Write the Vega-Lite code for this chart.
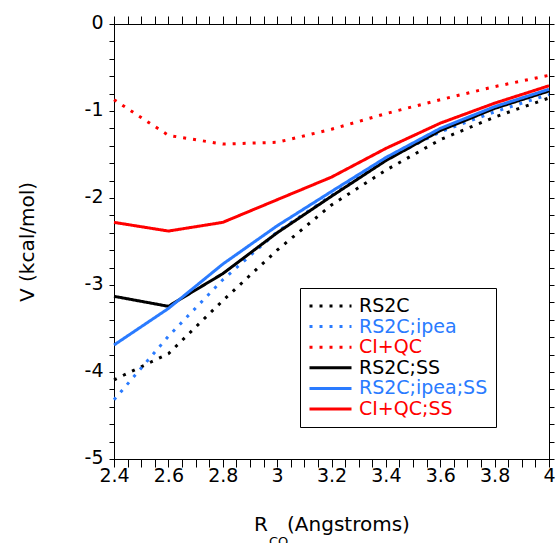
{
  "$schema": "https://vega.github.io/schema/vega-lite/v6.json",
  "width": 435,
  "height": 435,
  "autosize": {"type": "none"},
  "padding": {"left": 114, "top": 24, "right": 7, "bottom": 84},
  "background": "white",
  "config": {
    "font": "DejaVu Sans",
    "view": {"stroke": "#000", "strokeWidth": 1},
    "axis": {"domainColor": "#000", "tickColor": "#000", "labelColor": "#000", "titleColor": "#000", "grid": false, "labelFontSize": 19, "titleFontSize": 20, "titleFontWeight": "normal", "ticks": true, "tickWidth": 1}
  },
  "title": {"text": "CO", "orient": "bottom", "anchor": "start", "frame": "group", "dx": 155, "offset": 2, "fontSize": 13, "fontWeight": "normal", "color": "#000"},
  "data": {
    "values": [
      {"r": 2.4, "v": -4.09, "series": "RS2C"},
      {"r": 2.6, "v": -3.79, "series": "RS2C"},
      {"r": 2.8, "v": -3.18, "series": "RS2C"},
      {"r": 3.0, "v": -2.60, "series": "RS2C"},
      {"r": 3.2, "v": -2.08, "series": "RS2C"},
      {"r": 3.4, "v": -1.68, "series": "RS2C"},
      {"r": 3.6, "v": -1.33, "series": "RS2C"},
      {"r": 3.8, "v": -1.07, "series": "RS2C"},
      {"r": 4.0, "v": -0.85, "series": "RS2C"},
      {"r": 2.4, "v": -4.32, "series": "RS2C;ipea"},
      {"r": 2.6, "v": -3.59, "series": "RS2C;ipea"},
      {"r": 2.8, "v": -2.94, "series": "RS2C;ipea"},
      {"r": 3.0, "v": -2.39, "series": "RS2C;ipea"},
      {"r": 3.2, "v": -1.97, "series": "RS2C;ipea"},
      {"r": 3.4, "v": -1.56, "series": "RS2C;ipea"},
      {"r": 3.6, "v": -1.24, "series": "RS2C;ipea"},
      {"r": 3.8, "v": -1.01, "series": "RS2C;ipea"},
      {"r": 4.0, "v": -0.81, "series": "RS2C;ipea"},
      {"r": 2.4, "v": -0.87, "series": "CI+QC"},
      {"r": 2.6, "v": -1.28, "series": "CI+QC"},
      {"r": 2.8, "v": -1.38, "series": "CI+QC"},
      {"r": 3.0, "v": -1.36, "series": "CI+QC"},
      {"r": 3.2, "v": -1.21, "series": "CI+QC"},
      {"r": 3.4, "v": -1.03, "series": "CI+QC"},
      {"r": 3.6, "v": -0.87, "series": "CI+QC"},
      {"r": 3.8, "v": -0.72, "series": "CI+QC"},
      {"r": 4.0, "v": -0.59, "series": "CI+QC"},
      {"r": 2.4, "v": -3.13, "series": "RS2C;SS"},
      {"r": 2.6, "v": -3.245, "series": "RS2C;SS"},
      {"r": 2.8, "v": -2.87, "series": "RS2C;SS"},
      {"r": 3.0, "v": -2.40, "series": "RS2C;SS"},
      {"r": 3.2, "v": -1.98, "series": "RS2C;SS"},
      {"r": 3.4, "v": -1.57, "series": "RS2C;SS"},
      {"r": 3.6, "v": -1.225, "series": "RS2C;SS"},
      {"r": 3.8, "v": -0.97, "series": "RS2C;SS"},
      {"r": 4.0, "v": -0.77, "series": "RS2C;SS"},
      {"r": 2.4, "v": -3.69, "series": "RS2C;ipea;SS"},
      {"r": 2.6, "v": -3.27, "series": "RS2C;ipea;SS"},
      {"r": 2.8, "v": -2.76, "series": "RS2C;ipea;SS"},
      {"r": 3.0, "v": -2.32, "series": "RS2C;ipea;SS"},
      {"r": 3.2, "v": -1.925, "series": "RS2C;ipea;SS"},
      {"r": 3.4, "v": -1.535, "series": "RS2C;ipea;SS"},
      {"r": 3.6, "v": -1.20, "series": "RS2C;ipea;SS"},
      {"r": 3.8, "v": -0.95, "series": "RS2C;ipea;SS"},
      {"r": 4.0, "v": -0.75, "series": "RS2C;ipea;SS"},
      {"r": 2.4, "v": -2.28, "series": "CI+QC;SS"},
      {"r": 2.6, "v": -2.38, "series": "CI+QC;SS"},
      {"r": 2.8, "v": -2.28, "series": "CI+QC;SS"},
      {"r": 3.0, "v": -2.02, "series": "CI+QC;SS"},
      {"r": 3.2, "v": -1.76, "series": "CI+QC;SS"},
      {"r": 3.4, "v": -1.43, "series": "CI+QC;SS"},
      {"r": 3.6, "v": -1.14, "series": "CI+QC;SS"},
      {"r": 3.8, "v": -0.91, "series": "CI+QC;SS"},
      {"r": 4.0, "v": -0.71, "series": "CI+QC;SS"}
    ]
  },
  "layer": [
    {
      "mark": {"type": "line", "strokeWidth": 3, "strokeCap": "butt"},
      "encoding": {
        "x": {
          "field": "r", "type": "quantitative",
          "scale": {"domain": [2.4, 4], "nice": false, "zero": false},
          "axis": {
            "orient": "bottom",
            "values": [2.4, 2.45, 2.5, 2.55, 2.6, 2.65, 2.7, 2.75, 2.8, 2.85, 2.9, 2.95, 3.0, 3.05, 3.1, 3.15, 3.2, 3.25, 3.3, 3.35, 3.4, 3.45, 3.5, 3.55, 3.6, 3.65, 3.7, 3.75, 3.8, 3.85, 3.9, 3.95, 4.0],
            "tickSize": 8,
            "labelPadding": -1,
            "labelFlush": false,
            "labelOverlap": false,
            "labelExpr": "abs(datum.value*5 - round(datum.value*5)) < 0.01 ? format(datum.value, '~g') : ''",
            "title": "R\u00a0\u00a0\u00a0(Angstroms)",
            "titlePadding": 29,
            "encode": {"ticks": {"update": {"y2": {"signal": "abs(datum.value*5 - round(datum.value*5)) < 0.01 ? -8 : -4"}}}}
          }
        },
        "y": {
          "field": "v", "type": "quantitative",
          "scale": {"domain": [-5, 0], "nice": false, "zero": false},
          "axis": {
            "orient": "left",
            "values": [0, -0.2, -0.4, -0.6, -0.8, -1, -1.2, -1.4, -1.6, -1.8, -2, -2.2, -2.4, -2.6, -2.8, -3, -3.2, -3.4, -3.6, -3.8, -4, -4.2, -4.4, -4.6, -4.8, -5],
            "tickSize": 5,
            "labelPadding": 6,
            "labelOffset": -2,
            "labelFlush": false,
            "labelOverlap": false,
            "labelExpr": "abs(datum.value - round(datum.value)) < 0.01 ? (abs(datum.value) < 0.01 ? '0' : '-' + format(-datum.value, 'd')) : ''",
            "title": "V (kcal/mol)",
            "titlePadding": 47,
            "encode": {"ticks": {"update": {"x2": {"value": 5}}}}
          }
        },
        "color": {
          "field": "series", "type": "nominal",
          "scale": {
            "domain": ["RS2C", "RS2C;ipea", "CI+QC", "RS2C;SS", "RS2C;ipea;SS", "CI+QC;SS"],
            "range": ["#000000", "#2a7bff", "#ff0000", "#000000", "#2a7bff", "#ff0000"]
          },
          "legend": {
            "orient": "none",
            "legendX": 186,
            "legendY": 264,
            "title": null,
            "strokeColor": "#000",
            "fillColor": "#fff",
            "padding": 8,
            "symbolType": "stroke",
            "symbolSize": 1764,
            "symbolStrokeWidth": 3,
            "labelFontSize": 19,
            "labelOffset": 6,
            "clipHeight": 20,
            "rowPadding": 0.6,
            "labelLimit": 0,
            "encode": {"labels": {"update": {"fill": {"scale": "color", "field": "value"}}}}
          }
        },
        "strokeDash": {
          "field": "series", "type": "nominal",
          "scale": {
            "domain": ["RS2C", "RS2C;ipea", "CI+QC", "RS2C;SS", "RS2C;ipea;SS", "CI+QC;SS"],
            "range": [[3, 7], [3, 7], [3, 7], [1, 0], [1, 0], [1, 0]]
          }
        }
      }
    },
    {
      "mark": {"type": "point", "opacity": 0, "size": 1},
      "encoding": {
        "x": {
          "field": "r", "type": "quantitative",
          "axis": {
            "orient": "top",
            "values": [2.4, 2.45, 2.5, 2.55, 2.6, 2.65, 2.7, 2.75, 2.8, 2.85, 2.9, 2.95, 3.0, 3.05, 3.1, 3.15, 3.2, 3.25, 3.3, 3.35, 3.4, 3.45, 3.5, 3.55, 3.6, 3.65, 3.7, 3.75, 3.8, 3.85, 3.9, 3.95, 4.0],
            "labels": false,
            "tickSize": 8,
            "title": null,
            "encode": {"ticks": {"update": {"y2": {"signal": "abs(datum.value*5 - round(datum.value*5)) < 0.01 ? 8 : 4"}}}}
          }
        },
        "y": {
          "field": "v", "type": "quantitative",
          "axis": {
            "orient": "right",
            "values": [0, -0.2, -0.4, -0.6, -0.8, -1, -1.2, -1.4, -1.6, -1.8, -2, -2.2, -2.4, -2.6, -2.8, -3, -3.2, -3.4, -3.6, -3.8, -4, -4.2, -4.4, -4.6, -4.8, -5],
            "labels": false,
            "tickSize": 5,
            "title": null,
            "encode": {"ticks": {"update": {"x2": {"value": -5}}}}
          }
        }
      }
    }
  ],
  "resolve": {"axis": {"x": "independent", "y": "independent"}}
}
